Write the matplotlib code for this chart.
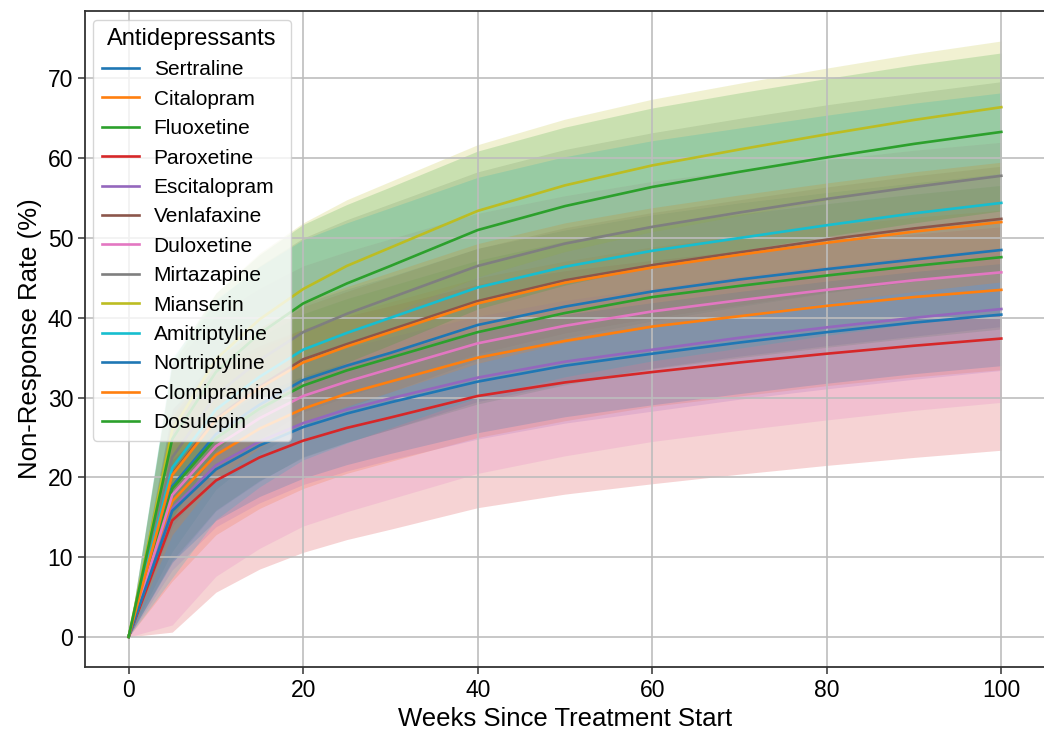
import numpy as np
import matplotlib
matplotlib.use("Agg")
import matplotlib.pyplot as plt

plt.rcParams['font.family'] = ['Liberation Sans', 'DejaVu Sans']

# Weeks at which the curves were evaluated
weeks = [0, 5, 10, 15, 20, 25, 30, 40, 50, 60, 70, 80, 90, 100]

drugs = ["Sertraline", "Citalopram", "Fluoxetine", "Paroxetine", "Escitalopram",
         "Venlafaxine", "Duloxetine", "Mirtazapine", "Mianserin", "Amitriptyline",
         "Nortriptyline", "Clomipramine", "Dosulepin"]

# Mean non-response rate (%) per drug
sertraline    = [0, 18.9, 25.4, 29.1, 32.2, 34.0, 35.6, 39.1, 41.4, 43.3, 44.8, 46.1, 47.3, 48.5]
citalopram    = [0, 17.0, 22.8, 26.1, 28.6, 30.5, 32.0, 35.0, 37.1, 38.9, 40.2, 41.5, 42.6, 43.5]
fluoxetine    = [0, 18.6, 24.9, 28.6, 31.5, 33.4, 35.0, 38.2, 40.6, 42.6, 44.0, 45.3, 46.5, 47.6]
paroxetine    = [0, 14.6, 19.6, 22.5, 24.6, 26.2, 27.5, 30.2, 31.9, 33.2, 34.4, 35.5, 36.5, 37.4]
escitalopram  = [0, 16.1, 21.5, 24.5, 26.8, 28.5, 29.9, 32.5, 34.5, 36.0, 37.5, 38.8, 40.0, 41.1]
venlafaxine   = [0, 20.4, 27.4, 31.4, 34.8, 36.7, 38.5, 42.1, 44.7, 46.6, 48.2, 49.8, 51.2, 52.4]
duloxetine    = [0, 17.8, 23.9, 27.4, 30.2, 32.0, 33.6, 36.8, 39.0, 40.8, 42.2, 43.5, 44.7, 45.7]
mirtazapine   = [0, 22.5, 30.3, 34.7, 38.2, 40.5, 42.5, 46.5, 49.3, 51.4, 53.2, 54.9, 56.4, 57.8]
mianserin     = [0, 25.9, 34.8, 39.8, 43.6, 46.5, 48.8, 53.4, 56.6, 59.1, 61.1, 63.0, 64.8, 66.4]
amitriptyline = [0, 21.2, 28.5, 32.6, 36.0, 38.1, 40.0, 43.8, 46.4, 48.4, 50.0, 51.6, 53.1, 54.4]
nortriptyline = [0, 15.8, 21.0, 24.0, 26.3, 28.0, 29.4, 32.0, 34.0, 35.5, 36.9, 38.2, 39.4, 40.4]
clomipramine  = [0, 20.3, 27.2, 31.2, 34.4, 36.4, 38.2, 41.8, 44.4, 46.3, 47.9, 49.4, 50.8, 52.0]
dosulepin     = [0, 24.8, 33.2, 38.0, 41.8, 44.3, 46.5, 51.0, 54.0, 56.4, 58.3, 60.1, 61.8, 63.3]

# Half-width of the shaded interval per drug (zero at baseline)
ci_halfwidth = [9.6, 10.0, 9.0, 14.0, 7.7, 6.6, 16.3, 11.8, 8.3, 13.8, 6.4, 7.5, 9.9]

means = [sertraline, citalopram, fluoxetine, paroxetine, escitalopram, venlafaxine,
         duloxetine, mirtazapine, mianserin, amitriptyline, nortriptyline,
         clomipramine, dosulepin]

colors = plt.rcParams['axes.prop_cycle'].by_key()['color']

fig = plt.figure(figsize=(10.44, 7.3), dpi=100)
ax = fig.add_axes([0.0814, 0.0867, 0.9195, 0.898])

w = np.array(weeks)
# bands first, lines on top
for i, (name, m) in enumerate(zip(drugs, means)):
    m = np.array(m)
    hw = np.where(w == 0, 0.0, ci_halfwidth[i])
    ax.fill_between(w, m - hw, m + hw, color=colors[i % 10], alpha=0.2,
                    linewidth=0, zorder=1)

for i, (name, m) in enumerate(zip(drugs, means)):
    ax.plot(w, m, color=colors[i % 10], linewidth=1.9, label=name, zorder=2)

ax.grid(True, color='#bdbdbd', linewidth=1.2)
for s in ax.spines.values():
    s.set_linewidth(1.3)
    s.set_color('#333333')
ax.tick_params(labelsize=16.5, width=1.1, length=5, color='#333333')
ax.set_xlabel("Weeks Since Treatment Start", fontsize=18.5)
ax.set_ylabel("Non-Response Rate (%)", fontsize=18.5)

leg = ax.legend(title="Antidepressants", loc="upper left", fontsize=15,
                title_fontsize=17, handlelength=1.8, handletextpad=0.7,
                labelspacing=0.5, borderaxespad=0.4)

fig.savefig("out.png", dpi=100)
